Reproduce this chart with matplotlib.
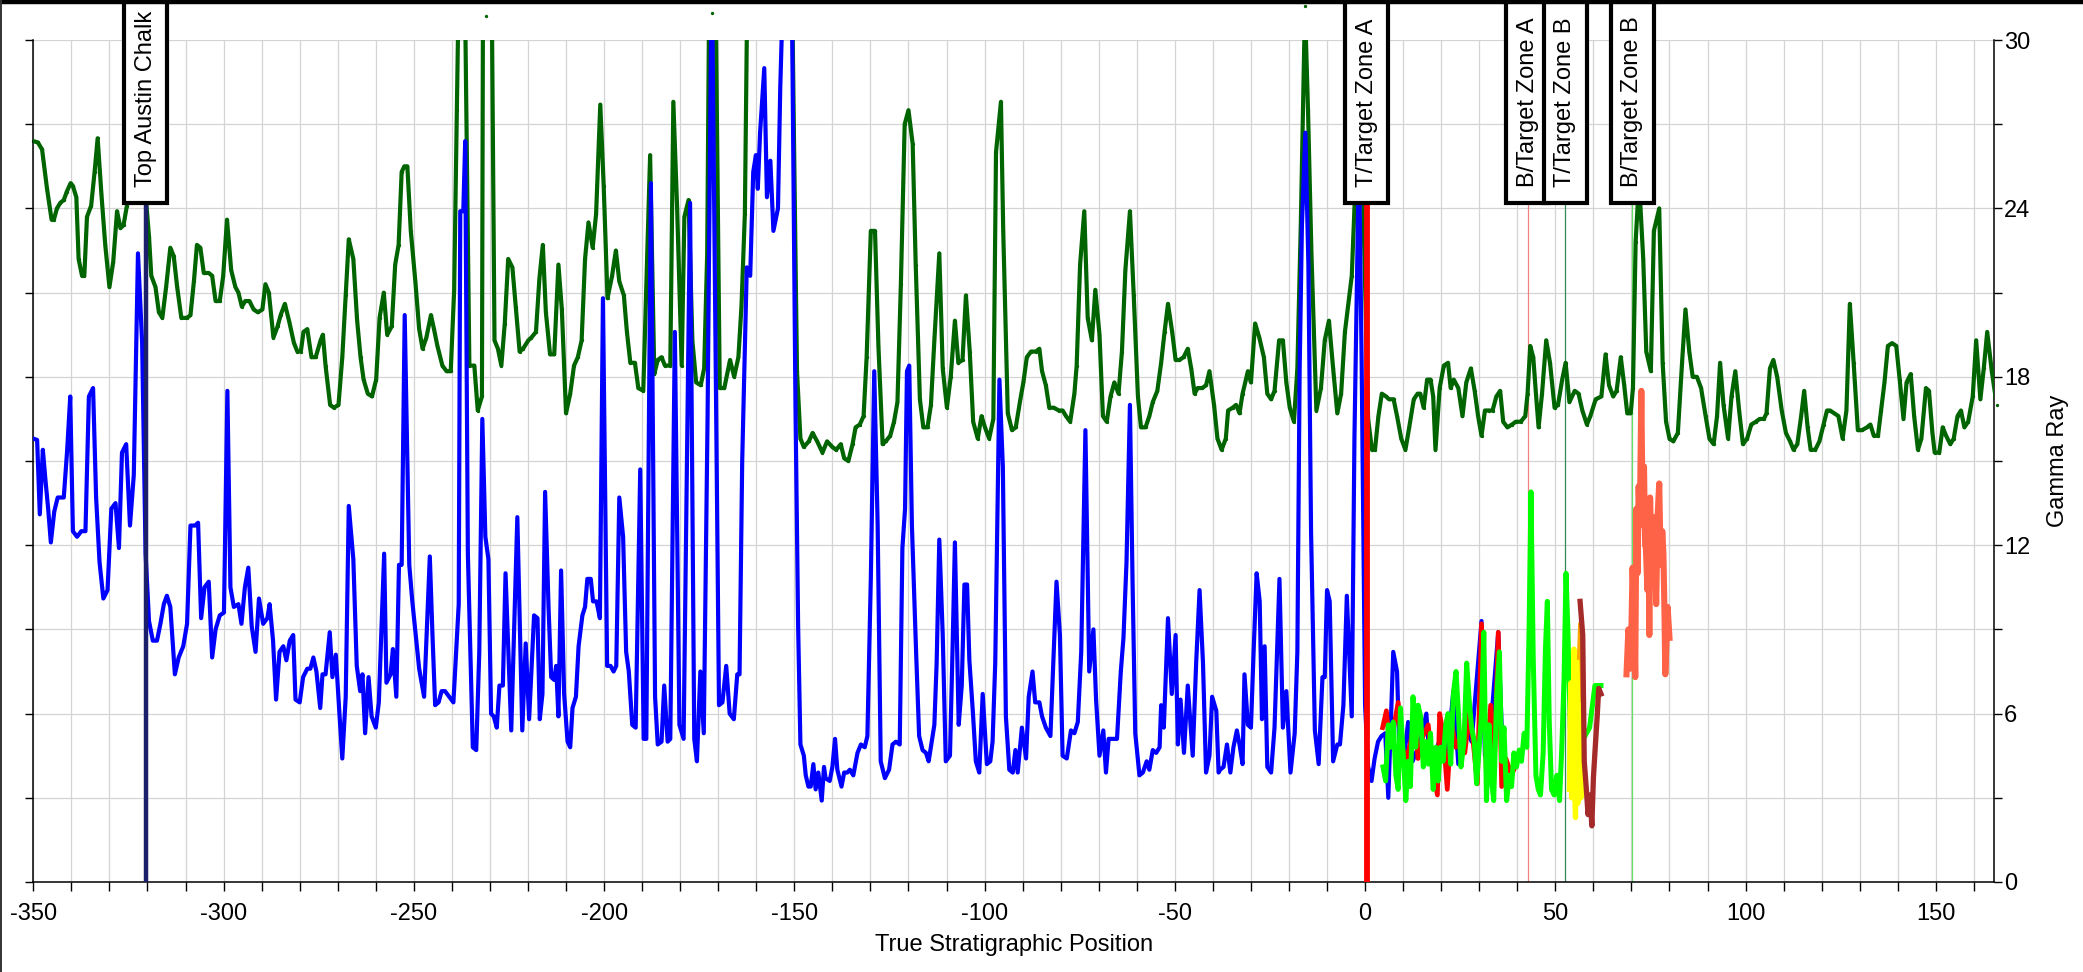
import matplotlib
matplotlib.use("Agg")
import matplotlib.pyplot as plt
from matplotlib import font_manager
from matplotlib.patches import Rectangle
from matplotlib.lines import Line2D
from matplotlib.ticker import MultipleLocator

# the chart text is set in a narrow sans; fall back to the regular width if missing
try:
    font_manager.findfont("Liberation Sans Narrow", fallback_to_default=False)
    FAMILY, FS = "Liberation Sans Narrow", 21
except ValueError:
    FAMILY, FS = "Liberation Sans", 17
plt.rcParams['font.family'] = [FAMILY, 'DejaVu Sans']
plt.rcParams['axes.unicode_minus'] = False

# ---------------- data ----------------
# gamma ray, type log (dark green)
green_x = [-350, -348.8, -347.7, -346.4, -345.2, -344.6, -343.8, -342.9, -342, -341.2,
           -340.2, -339.6, -338.7, -338.1, -337.2, -336.6, -335.9, -334.8, -333.9, -333.1,
           -332.1, -331.1, -330, -329, -328, -327.1, -326.3, -325.4, -324.3, -322.3,
           -320.5, -319.6, -319, -317.9, -317, -316.1, -315.1, -314, -313.1, -312.2,
           -311.1, -309.6, -308.7, -307.8, -307, -306.1, -305.2, -303.9, -303, -302.1,
           -301, -300.1, -299.1, -298, -296.9, -296.1, -295.2, -294.3, -293.2, -292.1,
           -291, -289.8, -289, -288.1, -286.9, -285.8, -285, -283.9, -282.8, -281.5,
           -280.6, -279.7, -279, -278, -276.9, -275.8, -274.5, -273.9, -273.2, -272,
           -271, -269.8, -268.8, -267.9, -267.1, -265.9, -264.9, -264, -263.2, -262.1,
           -261, -259.9, -259, -257.9, -257, -255.8, -254.9, -254, -253.2, -252.5,
           -251.7, -250.8, -249.6, -248.6, -247.7, -246.7, -245.5, -244.7, -243.8, -242.5,
           -241.4, -240.3, -239.4, -238.7, -237.3, -235.4, -234.1, -233.2, -232.1, -231.8,
           -231, -229.6, -228.8, -227.9, -227, -226.1, -225.2, -224.1, -223.2, -222.2,
           -221.3, -219.9, -219.1, -217.9, -217, -216.1, -215.3, -214.2, -213.1, -212,
           -211.1, -210, -208.9, -207.9, -206.9, -205.9, -205, -204.1, -203, -202.1,
           -201, -200.1, -199.1, -197.9, -196.9, -196, -194.8, -194, -193.1, -191.9,
           -191, -189.7, -188.8, -187.9, -186.8, -185.9, -184.9, -184, -182.6, -181.8,
           -180.8, -179.6, -178.9, -177.8, -176.8, -175.8, -174.6, -173.7, -172.9, -172.3,
           -171.7, -170.8, -169.6, -168.4, -166.9, -165.8, -164.7, -163.9, -163, -162.1,
           -159, -155, -151, -149.3, -148.4, -147.5, -146.2, -145.2, -144, -142.6,
           -141.4, -140, -139, -137.8, -136.9, -135.8, -134.7, -133.9, -132.8, -131.8,
           -131, -129.9, -128.8, -127.9, -126.8, -126, -124.8, -123.8, -122.9, -122,
           -121, -120, -118.9, -118.1, -117, -116.1, -115, -114.1, -113.2, -111.9,
           -111, -109.9, -108.9, -107.8, -106.9, -105.8, -104.9, -103.9, -103, -101.8,
           -100.8, -99.9, -98.8, -97.7, -97, -95.7, -95.1, -93.9, -92.8, -91.8,
           -90.6, -89.8, -88.9, -87.8, -86.5, -85.6, -84.9, -83.9, -83, -81.8,
           -80.5, -79.5, -78.6, -77.5, -76.4, -75.8, -74.9, -73.8, -72.9, -71.8,
           -70.9, -69.8, -68.9, -67.9, -66.9, -65.9, -64.8, -63.9, -63, -61.8,
           -60.8, -59.7, -58.9, -57.7, -56.7, -55.8, -54.6, -53.6, -52.7, -51.8,
           -50.7, -49.8, -48.8, -47.7, -46.6, -45.7, -44.8, -44, -42.8, -41.8,
           -40.9, -39.7, -38.8, -37.7, -36.6, -36, -34.8, -33.9, -33, -32.2,
           -30.8, -30, -28.9, -27.8, -26.6, -25.7, -24.7, -23.8, -22.6, -21.6,
           -20.7, -19.8, -18.7, -17.8, -16.9, -15.8, -15, -14.1, -12.8, -11.6,
           -10.6, -9.5, -8.4, -7.3, -6.3, -5.3, -4.4, -3.5, -2.8, -2.2,
           -1.2, 0.8, 1.8, 2.6, 3.5, 4.4, 5.5, 6.3, 7.5, 8.4,
           9.5, 10.6, 11.6, 12.8, 13.8, 14.5, 15.4, 16.3, 17.2, 17.9,
           18.5, 19.6, 20.7, 21.8, 22.5, 23.3, 24.5, 25.6, 26.6, 27.8,
           28.8, 29.7, 30.6, 31.5, 32.6, 33.5, 34.5, 35.5, 36.3, 37.4,
           38.6, 39.6, 40.9, 42.1, 42.7, 43.4, 44.2, 44.9, 45.6, 46.5,
           47.6, 48.6, 49.8, 50.7, 51.8, 52.7, 53.7, 55.1, 56.1, 57.1,
           58.3, 59.2, 60.6, 62.1, 63.2, 64.1, 65.2, 66.1, 67.2, 68.1,
           68.9, 69.8, 70.4, 71.1, 72, 73.1, 73.9, 75.1, 75.9, 77.3,
           78.2, 79.1, 80, 81, 82.2, 83.3, 84.2, 85.2, 86.1, 87.2,
           88.3, 89.5, 90.5, 91.6, 92.5, 93.3, 94.2, 95.4, 96.3, 97.3,
           98.3, 99.3, 100.4, 101.5, 102.7, 103.7, 104.8, 105.5, 106.4, 107.3,
           108.3, 109.5, 110.6, 111.7, 112.6, 113.6, 114.6, 115.4, 116.3, 117.1,
           118.3, 119.4, 120.5, 121.4, 122.2, 123.3, 124.4, 125.5, 126.5, 127.4,
           128.4, 129.5, 130.6, 131.9, 132.8, 133.7, 134.8, 135.6, 136.5, 137.4,
           138.5, 139.6, 140.5, 141.5, 142.3, 143.4, 144.3, 145.3, 146.2, 147.4,
           148.2, 149.1, 149.7, 150.9, 151.8, 152.7, 153.8, 154.7, 155.7, 156.6,
           157.5, 158.5, 159.7, 160.6, 161.7, 162.6, 163.5, 164.7, 166.0]
green_y = [26.4, 26.35, 26.1, 24.7, 23.6, 23.6, 24.0, 24.2, 24.3, 24.6,
           24.9, 24.8, 24.4, 22.2, 21.6, 21.6, 23.7, 24.1, 25.3, 26.5,
           24.5, 22.7, 21.2, 22.1, 23.9, 23.3, 23.4, 24.1, 25.0, 26.0,
           24.5, 23.0, 21.6, 21.2, 20.3, 20.1, 21.2, 22.6, 22.3, 21.2,
           20.1, 20.1, 20.2, 21.4, 22.7, 22.6, 21.7, 21.7, 21.6, 20.7,
           20.7, 21.6, 23.6, 21.8, 21.2, 21.0, 20.5, 20.7, 20.7, 20.4,
           20.3, 20.4, 21.3, 21.0, 19.4, 19.8, 20.2, 20.6, 20.0, 19.2,
           18.9, 18.9, 19.6, 19.7, 18.7, 18.7, 19.3, 19.5, 18.4, 17.0,
           16.9, 17.0, 18.7, 20.9, 22.9, 22.2, 20.0, 18.7, 17.9, 17.4,
           17.3, 17.9, 20.1, 21.0, 19.5, 19.8, 22.0, 22.7, 25.3, 25.5,
           25.5, 23.2, 21.4, 19.7, 19.0, 19.4, 20.2, 19.7, 19.1, 18.4,
           18.2, 18.2, 21.1, 27.5, 40.0, 18.4, 18.4, 16.8, 17.3, 33.0,
           30.85, 33.0, 19.3, 19.0, 18.4, 19.9, 22.2, 21.9, 20.5, 18.9,
           19.0, 19.3, 19.4, 19.6, 21.5, 22.7, 20.3, 18.8, 18.8, 22.0,
           20.4, 16.7, 17.4, 18.4, 18.7, 19.3, 22.2, 23.5, 22.6, 23.8,
           27.7, 24.8, 20.8, 21.6, 22.5, 21.4, 20.9, 19.6, 18.5, 18.5,
           17.6, 17.5, 21.7, 25.9, 18.1, 18.6, 18.7, 18.4, 18.4, 27.8,
           24.0, 18.4, 23.7, 24.3, 19.3, 17.8, 17.7, 18.3, 22.4, 33.0,
           30.96, 33.0, 17.6, 17.6, 18.6, 18.0, 18.7, 20.5, 23.8, 35.0,
           42.0, 40.0, 36.0, 18.2, 15.8, 15.5, 15.7, 16.0, 15.7, 15.3,
           15.7, 15.5, 15.4, 15.6, 15.1, 15.0, 15.6, 16.2, 16.3, 16.6,
           18.7, 23.2, 23.2, 19.1, 15.6, 15.7, 15.9, 16.4, 17.1, 21.3,
           27.0, 27.5, 26.3, 22.0, 17.2, 16.2, 16.2, 17.0, 19.3, 22.4,
           18.3, 16.9, 18.0, 20.0, 18.5, 18.6, 20.9, 18.9, 16.4, 15.8,
           16.6, 16.2, 15.8, 16.5, 26.0, 27.8, 23.2, 16.7, 16.1, 16.2,
           17.2, 17.8, 18.7, 18.9, 18.9, 19.0, 18.2, 17.7, 16.9, 16.9,
           16.8, 16.8, 16.6, 16.4, 17.4, 18.4, 22.0, 23.9, 20.1, 19.3,
           21.1, 19.5, 16.6, 16.4, 17.3, 17.8, 17.4, 18.9, 21.8, 23.9,
           20.9, 17.3, 16.2, 16.2, 16.6, 17.1, 17.5, 18.5, 19.6, 20.6,
           19.6, 18.6, 18.6, 18.7, 19.0, 18.3, 17.4, 17.6, 17.6, 17.7,
           18.2, 17.0, 15.8, 15.4, 15.8, 16.8, 16.9, 17.0, 16.7, 17.4,
           18.2, 17.8, 19.9, 19.4, 18.7, 17.4, 17.2, 17.5, 19.3, 19.3,
           17.8, 16.9, 16.4, 18.3, 23.4, 31.2, 27.5, 22.4, 16.8, 17.6,
           19.3, 20.0, 18.3, 16.7, 17.4, 19.6, 20.6, 21.6, 24.0, 25.4,
           28.5, 16.5, 15.4, 15.4, 16.6, 17.4, 17.3, 17.2, 17.2, 16.6,
           15.8, 15.4, 16.2, 17.2, 17.4, 17.4, 16.9, 17.9, 17.9, 17.3,
           15.4, 17.6, 18.4, 18.5, 17.6, 17.9, 17.6, 16.6, 17.8, 18.3,
           17.5, 16.6, 15.9, 16.8, 16.8, 16.8, 17.3, 17.5, 16.4, 16.2,
           16.3, 16.4, 16.4, 16.6, 17.4, 19.1, 18.7, 17.4, 16.2, 17.4,
           19.3, 18.5, 16.9, 17.0, 17.9, 18.5, 17.1, 17.5, 17.4, 16.8,
           16.3, 16.6, 17.2, 17.3, 18.8, 17.7, 17.3, 17.5, 18.7, 17.7,
           16.7, 16.7, 17.6, 22.8, 25.0, 22.2, 18.9, 18.2, 23.2, 24.0,
           18.5, 16.4, 15.8, 15.7, 16.0, 18.5, 20.4, 18.9, 18.0, 18.0,
           17.6, 16.6, 15.8, 15.6, 16.6, 18.5, 17.0, 15.8, 17.3, 18.2,
           16.8, 15.6, 15.8, 16.3, 16.4, 16.5, 16.5, 16.7, 18.3, 18.6,
           18.0, 16.8, 16.0, 15.7, 15.4, 15.6, 16.6, 17.5, 16.2, 15.4,
           15.4, 15.7, 16.3, 16.8, 16.8, 16.7, 16.6, 15.8, 16.8, 20.6,
           18.5, 16.1, 16.1, 16.2, 16.3, 15.9, 15.9, 16.8, 17.8, 19.1,
           19.2, 19.1, 17.9, 16.5, 17.8, 18.1, 16.6, 15.4, 15.8, 17.6,
           17.5, 16.0, 15.3, 15.3, 16.2, 15.9, 15.6, 15.8, 16.6, 16.8,
           16.2, 16.4, 17.3, 19.3, 17.2, 18.3, 19.6, 18.2, 17.0]

# gamma ray, vertical section (blue)
blue_x = [-350, -349, -348.3, -347.5, -346.8, -346.1, -345.4, -344.5, -343.6, -342.7,
          -342, -341.1, -340.3, -339.6, -338.5, -337.4, -336.3, -335.4, -334.3, -333.5,
          -332.6, -331.6, -330.5, -329.5, -328.4, -327.5, -326.7, -325.6, -324.6, -323.6,
          -322.5, -321.4, -320.5, -319.6, -318.6, -317.5, -316.6, -315.7, -314.9, -314,
          -312.8, -311.8, -310.6, -309.6, -308.7, -307.5, -306.7, -305.9, -305, -303.9,
          -303, -302.1, -301, -299.9, -299, -298.2, -297.3, -296.1, -295.3, -294.4,
          -293.5, -292.6, -291.6, -290.7, -289.6, -288.5, -287.9, -287, -286.2, -285.3,
          -284.3, -283.5, -282.6, -281.7, -281.1, -280, -279.1, -278, -277.2, -276.4,
          -275.6, -274.6, -274, -273.2, -272.1, -271.4, -270.5, -269.6, -268.8, -267.9,
          -267.1, -265.9, -265, -264.1, -263.5, -262.8, -261.9, -261.1, -260, -259.2,
          -257.8, -257.2, -256.1, -255.5, -254.6, -253.9, -253.2, -252.4, -251.2, -250.4,
          -249.5, -248.6, -247.3, -245.8, -245.1, -244.4, -243.5, -242.7, -241.8, -240.7,
          -239.6, -238.2, -237.8, -237, -236.5, -235.8, -234.5, -233.6, -232.8, -232,
          -231.2, -230.4, -229.7, -229, -228.2, -227.5, -226.6, -225.9, -224.4, -222.8,
          -221.5, -220.6, -219.7, -218.4, -217.5, -216.9, -216.2, -215.5, -214.6, -213.9,
          -213.1, -212.6, -212, -211.3, -210.5, -209.6, -208.9, -208.3, -207.4, -206.7,
          -205.7, -205, -204.4, -203.5, -202.9, -202, -201.1, -200.3, -199.2, -198.3,
          -197.5, -196.8, -196, -195, -194.2, -193.5, -192.6, -191.7, -190.5, -189.6,
          -188.9, -187.7, -186.6, -185.9, -184.9, -184.2, -183.3, -182.6, -181.4, -180.2,
          -179.1, -177.4, -176.3, -175.6, -174.7, -173.8, -172.8, -171.7, -169.8, -168.9,
          -167.9, -167, -165.9, -165, -164.4, -163.7, -162.5, -161.6, -160.8, -160.1,
          -159.6, -159, -157.9, -157.2, -156.3, -155.5, -154.3, -153.7, -152.5, -150.8,
          -149.7, -149, -148.4, -147.5, -147, -146.3, -145.7, -145, -144.4, -143.7,
          -142.8, -142.2, -141.8, -140.7, -140, -139.3, -138.7, -137.6, -136.9, -136.1,
          -135.4, -134.5, -133.4, -132.5, -131.5, -130.8, -129.9, -129, -128.1, -127.3,
          -126.2, -125.1, -124.2, -123.3, -122.3, -121.6, -120.9, -120.4, -119.8, -119.1,
          -118, -117.2, -116.3, -115.4, -114.7, -113.2, -112.6, -111.9, -111, -110.2,
          -109.1, -108.4, -107.8, -106.8, -106, -105.3, -104.6, -104, -103.1, -102.3,
          -101.4, -100.5, -99.4, -98.5, -97.9, -97.2, -96.1, -95.2, -94.4, -93.5,
          -92.6, -91.9, -91.3, -90.2, -89.1, -88.4, -87.4, -86.7, -85.6, -84.9,
          -83.9, -82.7, -81.1, -80.2, -79.5, -78.4, -77.3, -76.4, -75.5, -74.6,
          -73.5, -72.5, -71.4, -70.7, -69.8, -68.8, -68.1, -67.4, -66.3, -65.2,
          -64.2, -63.5, -62.7, -61.8, -61.1, -60.4, -59.3, -58.4, -57.4, -56.7,
          -55.8, -54.9, -54, -53.6, -52.9, -51.8, -50.8, -49.8, -49.2, -48.5,
          -47.6, -46.6, -45.3, -44.4, -43.5, -42.6, -41.8, -40.9, -40.2, -39.1,
          -38.5, -38.1, -37.2, -36.3, -35.4, -34.6, -33.7, -33, -32.2, -31.7,
          -30.8, -30, -29.3, -28.5, -27.7, -27.1, -26.4, -25.7, -24.7, -23.8,
          -22.5, -21.6, -20.7, -19.6, -18.5, -17.8, -17.2, -16.6, -15.7, -14.9,
          -14.2, -13.2, -12.2, -11.2, -10.6, -10, -9.3, -8.4, -7.3, -6.6,
          -5.7, -4.8, -3.5, -2.8, -2.2, -1.6, -0.9, 0, 0.8, 1.7,
          2.5, 3.4, 4.3, 5.3, 6.1, 7.4, 8.4, 9.1, 10.4, 11.3,
          12.5, 14.5, 16.1, 17.0, 19.5, 21.5, 23.2, 24.5, 26.5, 28,
          30.6, 31.5, 33, 35, 36.2]
blue_y = [15.8, 15.75, 13.1, 15.4, 14.3, 13.3, 12.1, 13.2, 13.7, 13.7,
          13.7, 15.4, 17.3, 12.5, 12.3, 12.5, 12.5, 17.3, 17.6, 13.7,
          11.4, 10.1, 10.4, 13.3, 13.5, 11.9, 15.3, 15.6, 12.7, 14.5,
          22.4, 19.2, 11.7, 9.3, 8.6, 8.6, 9.2, 9.9, 10.2, 9.8,
          7.4, 8.0, 8.4, 9.2, 12.7, 12.7, 12.8, 9.4, 10.5, 10.7,
          8.0, 9.0, 9.5, 9.6, 17.5, 10.5, 9.8, 9.9, 9.2, 10.5,
          11.2, 9.1, 8.2, 10.1, 9.2, 9.4, 9.9, 8.6, 6.5, 8.2,
          8.4, 7.9, 8.6, 8.8, 6.5, 6.4, 7.3, 7.6, 7.6, 8.0,
          7.5, 6.2, 7.4, 7.4, 8.9, 7.3, 8.1, 6.1, 4.4, 6.6,
          13.4, 11.5, 7.7, 6.8, 7.4, 5.3, 7.3, 5.9, 5.5, 6.4,
          11.7, 7.1, 7.4, 8.3, 6.6, 11.3, 11.3, 20.2, 11.3, 10.0,
          8.8, 7.6, 6.6, 11.6, 8.8, 6.3, 6.4, 6.8, 6.8, 6.6,
          6.4, 9.9, 23.9, 23.9, 26.4, 11.7, 4.8, 4.7, 8.2, 16.5,
          12.3, 11.5, 6.0, 5.9, 5.5, 7.0, 7.0, 11.0, 5.4, 13.0,
          5.4, 8.5, 5.8, 9.5, 9.4, 5.8, 6.7, 13.9, 9.8, 7.3,
          7.2, 7.7, 5.9, 11.1, 6.7, 5.0, 4.8, 6.2, 6.6, 8.4,
          9.5, 9.8, 10.8, 10.8, 10.0, 10.0, 9.4, 20.8, 7.7, 7.7,
          7.5, 7.7, 13.7, 12.3, 8.2, 7.5, 5.6, 5.5, 14.7, 5.1,
          5.1, 24.9, 6.6, 4.9, 5.0, 7.0, 5.0, 5.1, 19.6, 5.6,
          5.1, 24.2, 5.1, 4.3, 7.5, 5.3, 16.6, 33.0, 6.3, 6.4,
          7.7, 6.0, 5.8, 7.4, 7.4, 15.0, 21.9, 21.6, 25.3, 25.9,
          24.7, 26.7, 29.0, 24.4, 25.7, 23.2, 24.0, 28.3, 34.0, 34.0,
          17.0, 9.1, 4.9, 4.5, 3.8, 3.4, 3.4, 4.2, 3.3, 3.9,
          2.9, 4.1, 3.7, 3.6, 4.1, 5.1, 4.0, 3.4, 3.9, 3.9,
          4.0, 3.8, 4.6, 4.9, 4.8, 5.2, 10.8, 18.2, 12.7, 4.3,
          3.7, 4.0, 4.9, 5.0, 4.9, 11.9, 13.3, 18.2, 18.4, 12.7,
          8.2, 5.2, 4.7, 4.6, 4.3, 5.6, 7.8, 12.2, 8.8, 4.3,
          4.5, 8.4, 12.1, 5.6, 7.0, 10.6, 10.6, 7.9, 6.1, 4.3,
          3.9, 6.7, 4.2, 4.3, 5.0, 7.8, 17.9, 14.8, 5.9, 4.0,
          3.9, 4.7, 3.9, 5.5, 4.4, 6.6, 7.5, 6.4, 6.4, 5.9,
          5.5, 5.2, 10.7, 8.8, 4.5, 4.4, 5.4, 5.3, 5.7, 8.2,
          16.1, 7.5, 9.0, 6.5, 4.5, 5.4, 3.9, 5.1, 5.1, 5.1,
          7.5, 8.7, 11.4, 17.0, 10.6, 5.3, 3.8, 3.9, 4.3, 4.0,
          4.7, 4.6, 4.8, 6.3, 5.5, 9.4, 6.7, 8.8, 4.9, 6.5,
          4.6, 7.0, 4.5, 7.8, 10.4, 7.8, 3.9, 4.5, 6.6, 6.1,
          3.9, 4.0, 4.1, 4.9, 3.9, 4.8, 5.4, 4.9, 4.2, 7.4,
          5.6, 5.5, 8.2, 11.0, 10.0, 5.8, 8.4, 4.1, 3.9, 5.5,
          10.8, 5.5, 6.8, 3.9, 5.3, 8.2, 18.2, 23.4, 26.7, 22.0,
          12.5, 5.4, 4.2, 7.3, 7.3, 10.4, 10.0, 4.3, 4.9, 4.9,
          6.3, 10.2, 5.9, 15.8, 20.9, 26.0, 18.5, 6.3, 4.1, 3.6,
          4.4, 5.0, 5.2, 5.3, 3.0, 8.2, 7.5, 4.3, 4.6, 5.7,
          4.3, 5.0, 6.0, 4.2, 5.0, 4.4, 6.8, 4.2, 5.5, 5.0,
          9.3, 4.5, 5.5, 8.9, 4.4]

# lateral sections after the target top
red_x = [4.6, 5.6, 6.5, 7.5, 8.7, 9.6, 10.9, 12.0, 13.1, 13.9,
         15.2, 16.6, 17.5, 19.0, 19.6, 20.5, 21.6, 22.7, 23.8, 24.9,
         26.2, 27.4, 28.4, 29.5, 30.6, 31.9, 33.0, 33.7, 35.0, 35.9,
         37.0, 38.5, 40.0]
red_y = [5.5, 6.1, 4.8, 5.5, 6.4, 4.8, 4.4, 5.0, 5.9, 4.4,
         5.2, 5.6, 4.3, 3.1, 6.0, 5.3, 3.3, 5.7, 4.8, 5.1,
         4.6, 6.0, 5.0, 3.5, 9.2, 3.8, 6.3, 3.1, 8.9, 3.4,
         4.4, 3.8, 4.3]

lime_x = [4.7, 5.4, 6.1, 6.7, 7.4, 8.1, 8.7, 9.3, 10, 10.7,
          11.3, 11.9, 12.6, 13.3, 13.9, 14.6, 15.3, 16, 16.6, 17.2,
          17.9, 18.6, 19.2, 19.8, 20.5, 21.2, 21.8, 22.5, 23.2, 23.9,
          24.5, 25.2, 26, 26.7, 27.4, 28, 28.7, 29.3, 30, 30.6,
          31.2, 31.9, 32.6, 33.2, 33.8, 34.6, 35.3, 35.9, 36.5, 37.2,
          37.9, 38.5, 39.1, 39.8, 40.5, 41.1, 41.8, 42.5, 43.1, 43.6,
          44.2, 44.9, 45.5, 46.1, 46.8, 47.4, 47.9, 48.4, 49, 49.7,
          50.4, 51.1, 51.7, 52.3, 52.8, 53.3, 53.9, 55, 57, 59,
          60.4, 62]
lime_y = [4.1, 3.6, 5.6, 4.8, 5.7, 3.8, 3.3, 6.2, 4.6, 2.9,
          4.3, 3.4, 6.6, 4.8, 6.3, 5.9, 4.1, 5.0, 4.2, 5.3,
          3.3, 4.8, 3.6, 4.8, 4.3, 5.6, 6.0, 4.2, 6.7, 7.5,
          6.1, 4.1, 5.0, 7.8, 6.4, 5.5, 5.0, 3.5, 4.8, 6.0,
          8.9, 2.9, 5.6, 3.7, 2.9, 6.7, 8.2, 4.3, 5.5, 2.9,
          3.8, 3.4, 4.6, 4.1, 4.7, 4.3, 5.3, 4.8, 9.0, 13.9,
          7.9, 3.8, 3.3, 3.1, 4.6, 8.3, 10.0, 5.7, 3.3, 3.1,
          3.8, 2.9, 4.8, 7.3, 11.0, 9.0, 5.5, 4.5, 5.0, 5.5,
          7.0, 7.0]

yellow_x = [53.7, 53.9, 54.1, 54.3, 54.6, 54.9, 55.1, 55.3, 55.6, 55.9,
            56.1, 56.3, 56.5, 56.7, 56.9, 57.2, 57.5]
yellow_y = [3.3, 6.0, 7.1, 3.0, 4.3, 8.3, 3.2, 2.3, 7.9, 2.8,
            5.3, 8.0, 7.3, 3.0, 3.7, 6.3, 3.3]

orange_x = [56.3, 56.6, 56.9, 57.2]
orange_y = [8.0, 9.2, 8.3, 6.5]

brown_x = [56.5, 57.2, 57.6, 58.1, 58.6, 59.1, 59.6, 60.0, 60.4, 61.0,
           61.4, 62.0]
brown_y = [10.0, 8.8, 4.3, 3.4, 2.4, 3.1, 2.0, 3.7, 4.6, 5.9,
           6.9, 6.7]

salmon_x = [68.7, 69.2, 69.5, 69.8, 70.3, 70.7, 71.0, 71.3, 71.6, 71.9,
            72.2, 72.6, 72.9, 73.3, 73.6, 73.8, 74.2, 74.5, 74.7, 74.9,
            75.2, 75.4, 75.7, 76.0, 76.3, 76.5, 76.9, 77.3, 77.6, 77.8,
            78.1, 78.4, 78.7, 78.9, 79.2, 79.5, 80.0]
salmon_y = [7.4, 9.0, 8.2, 7.6, 11.2, 9.5, 7.3, 13.3, 11.0, 14.1,
            12.7, 17.5, 13.5, 14.8, 12.0, 11.9, 10.4, 12.5, 8.8, 13.7,
            11.5, 10.6, 13.0, 12.7, 11.0, 9.9, 13.1, 14.2, 12.0, 11.3,
            12.5, 11.7, 9.5, 7.4, 8.5, 9.8, 8.7]

# formation tops
top_names = ["Top Austin Chalk", "T/Target Zone A", "B/Target Zone A",
             "T/Target Zone B", "B/Target Zone B"]
top_pos = [-320.5, 0.4, 42.7, 52.6, 70.2]
top_colors = ["#1c1f6b", "#ff0000", "#f08080", "#2e8b57", "#66e066"]
top_widths = [3.2, 4.2, 0.9, 0.9, 0.9]

# ---------------- figure ----------------
fig = plt.figure(figsize=(20.83, 9.72), dpi=100)
ax = fig.add_axes([0.016, 0.0926, 0.9413, 0.8662])

ax.plot(green_x, green_y, color="#006400", lw=3.0, zorder=3)
# tiny point markers, only visible where the curve runs above the frame
ax.plot(green_x, green_y, "o", color="#006400", ms=2.4, mew=0,
        clip_on=False, zorder=2)
ax.plot(blue_x, blue_y, color="#0000ff", lw=3.0, zorder=4)
ax.plot(red_x, red_y, color="#ff0000", lw=3.4, zorder=5)
ax.plot(lime_x, lime_y, color="#00ff00", lw=3.6, zorder=6)
ax.plot(yellow_x, yellow_y, color="#ffff00", lw=3.8, zorder=7)
ax.plot(orange_x, orange_y, color="#ffa500", lw=3.4, zorder=7.5)
ax.plot(brown_x, brown_y, color="#a52a2a", lw=3.8, zorder=8)
ax.plot(salmon_x, salmon_y, color="#ff6347", lw=4.4, zorder=8)

box_bottom = 24.2
box_w = 11.3
for name, xp, c, w in zip(top_names, top_pos, top_colors, top_widths):
    ax.axvline(xp, color=c, lw=w, zorder=9 if w > 2 else 2.5)
    ax.add_patch(Rectangle((xp - box_w / 2, box_bottom), box_w, 8,
                           facecolor="white", edgecolor="black", lw=3.0,
                           clip_on=False, zorder=20))
    ax.text(xp, box_bottom + 0.55, name, rotation=90, ha="center", va="bottom",
            fontsize=FS, clip_on=False, zorder=21)

ax.set_xlim(-350, 165.3)
ax.set_ylim(0, 30)
ax.xaxis.set_major_locator(MultipleLocator(50))
ax.xaxis.set_minor_locator(MultipleLocator(10))
ax.yaxis.set_major_locator(MultipleLocator(6))
ax.yaxis.set_minor_locator(MultipleLocator(3))
ax.grid(True, which="both", color="#d4d4d4", lw=0.9, zorder=0)
ax.set_axisbelow(True)

ax.tick_params(axis="x", which="both", direction="out", length=6.3, width=1,
               labelsize=FS, pad=9)
ax.tick_params(axis="y", which="both", direction="out", length=5.5, width=1,
               left=True, right=True, labelleft=False, labelright=True,
               labelsize=FS, pad=1.5)
ax.yaxis.set_label_position("right")
ax.set_ylabel("Gamma Ray", fontsize=FS, labelpad=12)
ax.set_xlabel("True Stratigraphic Position", fontsize=FS, labelpad=6)

ax.spines["top"].set_visible(False)
for s in ("left", "right", "bottom"):
    ax.spines[s].set_linewidth(1.1)

# outer frame of the exported image
fig.add_artist(Line2D([0, 1], [0.998, 0.998], transform=fig.transFigure,
                      color="black", lw=3.2))
fig.add_artist(Line2D([0.0007, 0.0007], [0, 1], transform=fig.transFigure,
                      color="#333333", lw=1.4))

fig.savefig("out.png", dpi=100)
